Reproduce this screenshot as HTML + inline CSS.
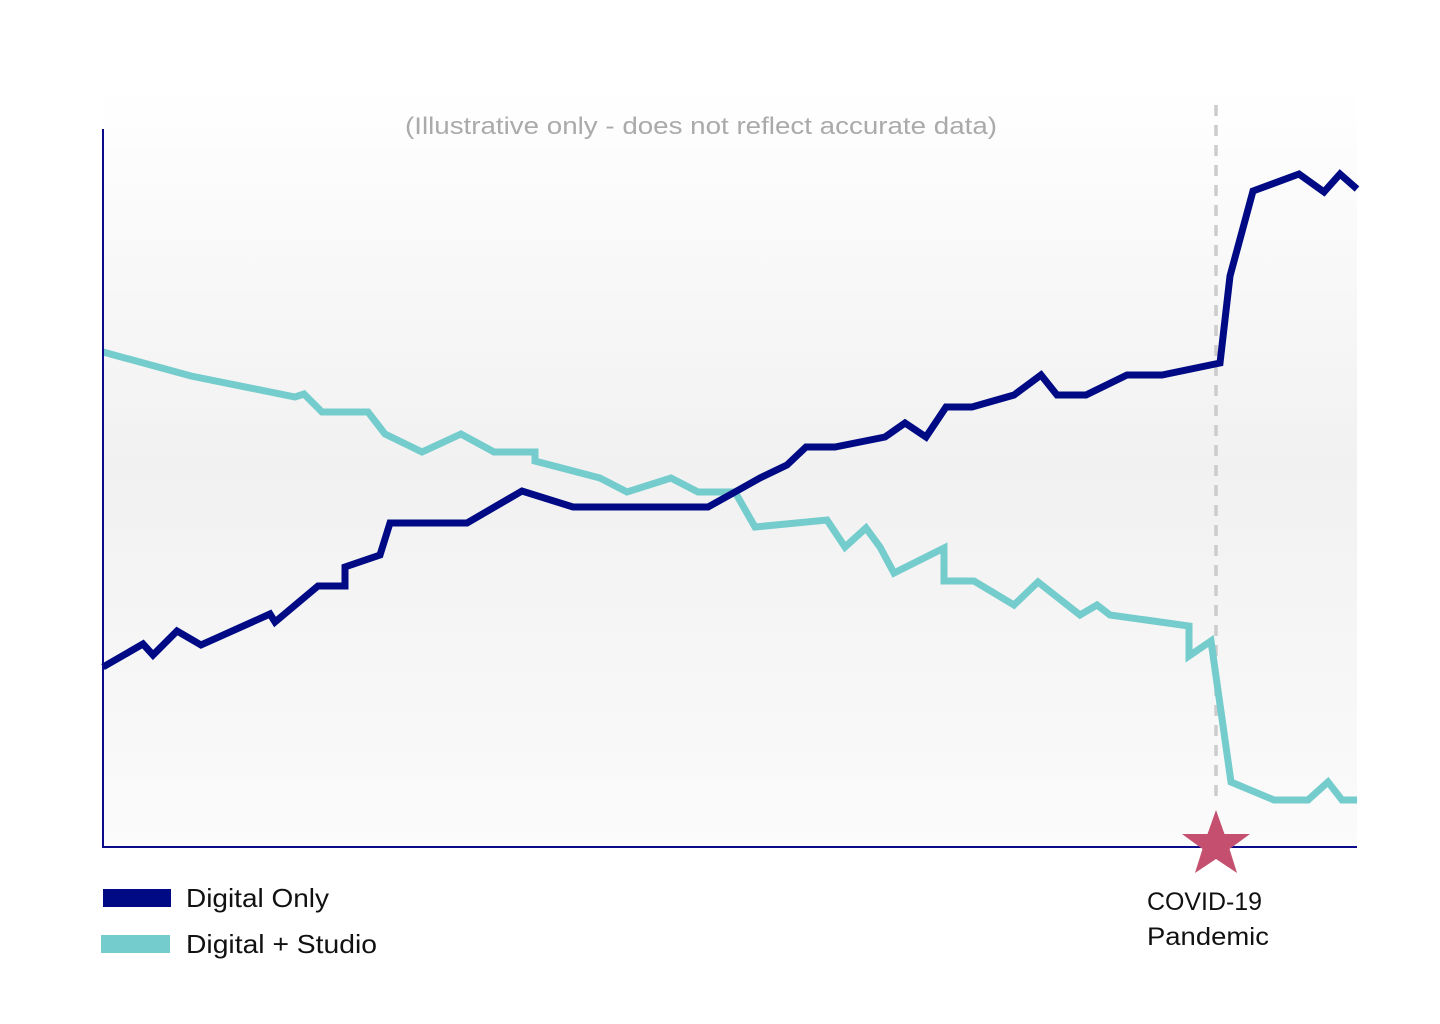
<!DOCTYPE html>
<html><head><meta charset="utf-8"><style>
html,body{margin:0;padding:0;background:#fff;}
svg{display:block;font-family:"Liberation Sans",sans-serif;}
</style></head><body>
<svg id="chart" width="1440" height="1024" viewBox="0 0 1440 1024" xmlns="http://www.w3.org/2000/svg">
<defs>
<linearGradient id="bg" x1="0" y1="0" x2="0" y2="1">
<stop offset="0" stop-color="#ffffff"/>
<stop offset="0.5" stop-color="#f1f1f1"/>
<stop offset="1" stop-color="#fbfbfb"/>
</linearGradient>
</defs>
<rect x="103" y="85" width="1254" height="762" fill="url(#bg)"/>
<text x="405" y="134" textLength="592" lengthAdjust="spacingAndGlyphs" font-size="24" fill="#aaaaaa">(Illustrative only - does not reflect accurate data)</text>
<line x1="1216" y1="105" x2="1216" y2="805" stroke="#cccccc" stroke-width="3.5" stroke-dasharray="11,9"/>
<g id="series"></g>
<line x1="103" y1="129" x2="103" y2="848" stroke="#0a0a8a" stroke-width="2"/>
<line x1="102" y1="847" x2="1357" y2="847" stroke="#0a0a8a" stroke-width="2"/>
<polygon fill="#c44f6f" points="1216,810 1224.5,834 1250,834 1229.5,849 1237,873 1216,859 1195,873 1202.5,849 1182,834 1207.5,834"/>
<text x="1147" y="910" textLength="115" lengthAdjust="spacingAndGlyphs" font-size="25" fill="#111">COVID-19</text>
<text x="1147" y="945" textLength="122" lengthAdjust="spacingAndGlyphs" font-size="25" fill="#111">Pandemic</text>
<rect x="103" y="889" width="68" height="18" fill="#000a85"/>
<text x="186" y="907" textLength="143" lengthAdjust="spacingAndGlyphs" font-size="26" fill="#111">Digital Only</text>
<rect x="101" y="935" width="69" height="18" fill="#74cccc"/>
<text x="186" y="953" textLength="191" lengthAdjust="spacingAndGlyphs" font-size="26" fill="#111">Digital + Studio</text>
</svg>
<script>
const digitalOnlyX=[0,40,50,74,98,167,172,215,242,242,277,287,364,419,470,605,632,657,684,703,732,782,802,823,843,869,911,938,954,983,1024,1059,1117,1127,1150,1196,1221,1237,1254];
const digitalOnlyY=[180,203,192,216,202,233,225,261,261,280,292,324,324,356,340,340,355,369,382,400,400,410,424,410,440,440,452,472,452,452,472,472,484,571,656,673,655,673,658];
const studioX=[0,88,192,201,219,265,282,319,358,391,432,432,497,524,568,595,632,652,724,742,763,777,791,841,841,871,911,935,977,994,1007,1086,1086,1108,1128,1171,1205,1225,1239,1254];
const studioY=[495,471,450,453,435,435,413,395,413,395,395,386,369,355,369,355,355,320,327,300,319,300,274,299,266,266,242,265,232,242,232,221,191,206,65,47,47,65,47,47];
const X0=103,X1=1357,Y0=847,Y1=129,XMAX=1254,YMAX=718;
function xs(v){return X0+(X1-X0)*v/XMAX;}
function ys(v){return Y0-(Y0-Y1)*v/YMAX;}
const g=document.getElementById('series');
function draw(xa,ya,color,name){
  const p=document.createElementNS('http://www.w3.org/2000/svg','polyline');
  p.setAttribute('points',xa.map((x,i)=>xs(x)+','+ys(ya[i])).join(' '));
  p.setAttribute('fill','none');
  p.setAttribute('stroke',color);
  p.setAttribute('stroke-width','7');
  p.setAttribute('stroke-linejoin','miter');
  
  
  g.appendChild(p);
}
draw(studioX,studioY,'#74cccc','digital-studio-line');
draw(digitalOnlyX,digitalOnlyY,'#000a85','digital-only-line');
</script>
</body></html>
